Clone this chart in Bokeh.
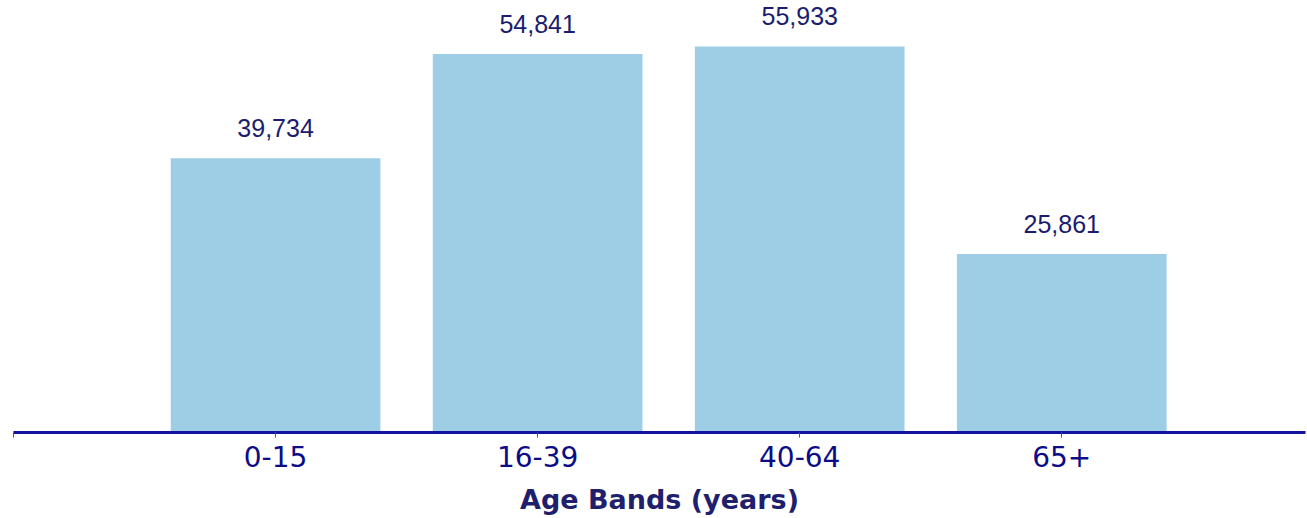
from bokeh.plotting import figure
from bokeh.models import FixedTicker, Range1d, ColumnDataSource
from bokeh.core.properties import value
from bokeh.embed import file_html
from bokeh.resources import INLINE

categories = ["0-15", "16-39", "40-64", "65+"]
counts = [39734, 54841, 55933, 25861]
label_texts = ["39,734", "54,841", "55,933", "25,861"]

xs = list(range(len(categories)))
src = ColumnDataSource(dict(x=xs, top=counts, lab=label_texts))

p = figure(frame_width=1292, frame_height=432, output_backend="svg", toolbar_location=None,
           x_range=Range1d(-1, 3.93), y_range=Range1d(0, 62598),
           min_border_left=13, min_border_right=2, min_border_top=0, min_border_bottom=86)
p.outline_line_color = None
p.xgrid.visible = False
p.ygrid.visible = False
p.yaxis.visible = False

p.vbar(x="x", top="top", width=0.8, bottom=0, source=src, fill_color="#9dcee6", line_color=None)
p.text(x="x", y="top", text="lab", source=src, text_align="center", text_baseline="alphabetic",
       y_offset=-30, text_font=value("Liberation Sans"), text_font_size="25px", text_color="#1c1c6e")

ax = p.xaxis[0]
ax.ticker = FixedTicker(ticks=[-1] + xs)
ax.major_label_overrides = {-1: ""} | {i: c for i, c in zip(xs, categories)}
ax.axis_line_color = "#12129c"
ax.axis_line_width = 3
ax.major_tick_line_color = "#555555"
ax.major_tick_out = 5
ax.major_tick_in = 0
ax.minor_tick_line_color = None
ax.major_label_text_font = "DejaVu Sans"
ax.major_label_text_font_size = "28px"
ax.major_label_text_color = "#0c0c86"
ax.major_label_standoff = 8
ax.axis_label = "Age Bands (years)"
ax.axis_label_text_font = "DejaVu Sans"
ax.axis_label_text_font_size = "27px"
ax.axis_label_text_font_style = "bold"
ax.axis_label_text_color = "#1f1f6e"
ax.axis_label_standoff = 14

open("out.html", "w").write(file_html(p, INLINE))
